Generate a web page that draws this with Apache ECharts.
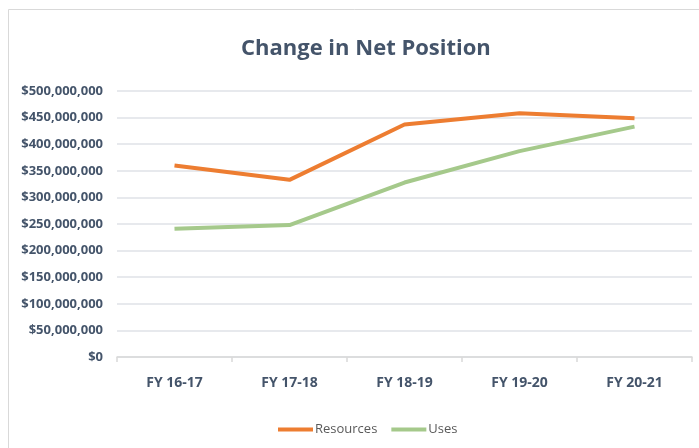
<!DOCTYPE html>
<html>
<head>
<meta charset="utf-8">
<script src="https://cdn.jsdelivr.net/npm/echarts@6/dist/echarts.min.js"></script>
<style>
  html, body { margin: 0; padding: 0; background: #fff; }
  #chart { width: 699px; height: 448px; }
</style>
</head>
<body>
<div id="chart"></div>
<script>
  // 年度
  var categories = ['FY 16-17', 'FY 17-18', 'FY 18-19', 'FY 19-20', 'FY 20-21'];
  // 数值，单位：百万美元
  var resources = [360, 333, 437, 458, 449];
  var uses = [241, 248, 328, 387, 433];
  var seriesNames = ['Resources', 'Uses'];
  var titleText = 'Change in Net Position';

  var font = "'Open Sans', sans-serif";

  function money(v) {
    var s = String(Math.round(v * 1000000));
    return '$' + s.replace(/\B(?=(\d{3})+(?!\d))/g, ',');
  }

  var mychart = echarts.init(document.getElementById('chart'));
  mychart.setOption({
    animation: false,
    backgroundColor: '#fff',
    title: {
      text: titleText,
      left: 236,
      top: 33,
      textStyle: {
        fontFamily: font,
        fontSize: 22,
        fontWeight: 'bold',
        color: '#44546A'
      }
    },
    graphic: [{
      type: 'rect',
      shape: { x: 8.5, y: 9.5, width: 720, height: 460 },
      style: { fill: 'none', stroke: '#d9d9d9', lineWidth: 1 },
      silent: true
    }],
    legend: {
      data: seriesNames,
      left: 273,
      top: 418,
      itemWidth: 35,
      itemHeight: 4,
      itemGap: 14,
      icon: 'rect',
      textStyle: {
        fontFamily: font,
        fontSize: 13,
        color: '#595959',
        padding: [0, 0, 0, -3]
      }
    },
    grid: {
      left: 117,
      right: 7,
      top: 91,
      bottom: 91
    },
    xAxis: {
      type: 'category',
      data: categories,
      boundaryGap: true,
      axisLine: { lineStyle: { color: '#d9d9d9', width: 1.5 } },
      axisTick: { show: true, length: 5, lineStyle: { color: '#d9d9d9', width: 1.5 } },
      axisLabel: {
        margin: 19,
        fontFamily: font,
        fontSize: 14,
        fontWeight: 'bold',
        color: '#44546A'
      },
      splitLine: { show: false }
    },
    yAxis: {
      type: 'value',
      min: 0,
      max: 500,
      interval: 50,
      axisLine: { show: false },
      axisTick: { show: false },
      axisLabel: {
        margin: 14,
        fontFamily: font,
        fontSize: 13,
        fontWeight: 'bold',
        color: '#44546A',
        formatter: money
      },
      splitLine: { lineStyle: { color: '#dfe2e7', width: 1.5 } }
    },
    series: [
      {
        name: seriesNames[0],
        type: 'line',
        data: resources,
        symbol: 'none',
        lineStyle: { color: '#ED7D31', width: 4 },
        itemStyle: { color: '#ED7D31' }
      },
      {
        name: seriesNames[1],
        type: 'line',
        data: uses,
        symbol: 'none',
        lineStyle: { color: '#A5C98B', width: 4 },
        itemStyle: { color: '#A5C98B' }
      }
    ]
  });
</script>
</body>
</html>
